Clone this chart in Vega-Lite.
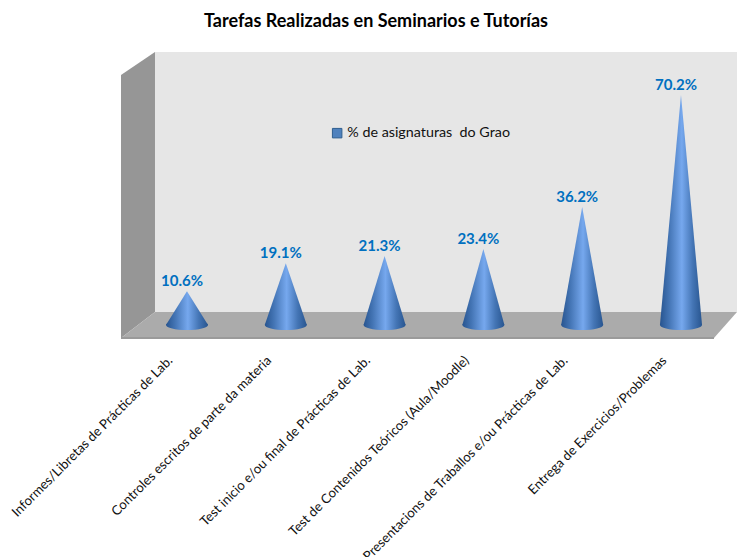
{
"$schema":"https://vega.github.io/schema/vega-lite/v6.json",
"width":616,"height":286,
"autosize":{"type":"none"},
"padding":{"left":121,"top":52,"right":0,"bottom":219},
"background":"white",
"config":{"view":{"stroke":null}},
"title":{"text":"Tarefas Realizadas en Seminarios e Tutorías","font":"Lato","fontSize":18,"fontWeight":"bold","color":"#000000","anchor":"middle","dx":-53,"offset":21},
"datasets":{
"cones":[
{"idx":0,"cat":"Informes/Libretas de Prácticas de Lab.","pct":10.6},
{"idx":1,"cat":"Controles escritos de parte da materia","pct":19.1},
{"idx":2,"cat":"Test inicio e/ou final de Prácticas de Lab.","pct":21.3},
{"idx":3,"cat":"Test de Contenidos Teóricos (Aula/Moodle)","pct":23.4},
{"idx":4,"cat":"Presentacions de Traballos e/ou Prácticas de Lab.","pct":36.2},
{"idx":5,"cat":"Entrega de Exercicios/Problemas","pct":70.2}],
"wall":[{"a":-0.324,"b":83.31,"c":4.26},{"a":5.567,"b":83.31,"c":4.26}],
"side":[{"a":-0.668,"b":76.3,"c":-3.65},{"a":-0.324,"b":83.31,"c":4.26}],
"floor":[{"a":-0.668,"b":-3.65,"c":-3.65},{"a":-0.324,"b":4.26,"c":-3.65},{"a":5.334,"b":4.26,"c":-3.65},{"a":5.567,"b":4.26,"c":4.26}],
"edge":[{"a":-0.668,"b":-3.65},{"a":5.334,"b":-3.65}]
},
"layer":[
{"data":{"name":"wall"},"mark":{"type":"area","fill":"#e6e6e6","clip":false},
 "encoding":{"x":{"field":"a","type":"quantitative","scale":{"domain":[-0.668,5.567],"nice":false,"zero":false},
   "axis":{"values":[0,1,2,3,4,5],"title":null,"grid":false,"domain":false,"ticks":false,"labelAngle":-45,"labelAlign":"right","labelBaseline":"middle","labelPadding":20,"labelOffset":-17,"labelFont":"Lato","labelFontSize":13.2,"labelColor":"#111111","labelOverlap":false,"labelBound":false,"labelFlush":false,"labelLimit":400,
   "labelExpr":"['Informes/Libretas de Prácticas de Lab.','Controles escritos de parte da materia','Test inicio e/ou final de Prácticas de Lab.','Test de Contenidos Teóricos (Aula/Moodle)','Presentacions de Traballos e/ou Prácticas de Lab.','Entrega de Exercicios/Problemas'][datum.value]"}},
  "y":{"field":"b","type":"quantitative","stack":null,"scale":{"domain":[-3.65,83.31],"nice":false,"zero":false},"axis":null},
  "y2":{"field":"c"}}},
{"data":{"name":"side"},"mark":{"type":"area","fill":"#969696"},
 "encoding":{"x":{"field":"a","type":"quantitative"},"y":{"field":"b","type":"quantitative","stack":null},"y2":{"field":"c"}}},
{"data":{"name":"floor"},"mark":{"type":"area","fill":"#ababab"},
 "encoding":{"x":{"field":"a","type":"quantitative"},"y":{"field":"b","type":"quantitative","stack":null},"y2":{"field":"c"}}},
{"data":{"name":"edge"},"mark":{"type":"line","stroke":"#9a9a9a","strokeWidth":2},
 "encoding":{"x":{"field":"a","type":"quantitative"},"y":{"field":"b","type":"quantitative"}}},
{"data":{"name":"cones"},
 "transform":[{"calculate":"[-0.213,0,0.213]","as":"o"},{"flatten":["o"]},{"calculate":"datum.idx+datum.o","as":"px"},{"calculate":"datum.o==0?datum.pct:0.3","as":"h"}],
 "mark":{"type":"area","interpolate":"linear","fill":{"x1":0,"y1":0,"x2":1,"y2":0,"gradient":"linear","stops":[{"offset":0,"color":"#27548f"},{"offset":0.22,"color":"#4475b5"},{"offset":0.52,"color":"#76a8ee"},{"offset":0.78,"color":"#4475b5"},{"offset":1,"color":"#28558f"}]}},
 "encoding":{"x":{"field":"px","type":"quantitative"},"y":{"field":"h","type":"quantitative","stack":null},"y2":{"datum":0.3},"detail":{"field":"idx"}}},
{"data":{"name":"cones"},
 "mark":{"type":"point","shape":"M-1,0A1,0.24,0,0,0,1,0A1,0.24,0,0,0,-1,0Z","size":1764,"filled":true,"opacity":1,"fill":{"x1":0,"y1":0,"x2":1,"y2":0,"gradient":"linear","stops":[{"offset":0,"color":"#27548f"},{"offset":0.22,"color":"#4475b5"},{"offset":0.52,"color":"#76a8ee"},{"offset":0.78,"color":"#4475b5"},{"offset":1,"color":"#28558f"}]}},
 "encoding":{"x":{"field":"idx","type":"quantitative"},"y":{"datum":0.3,"type":"quantitative"}}},
{"data":{"name":"cones"},
 "transform":[{"calculate":"format(datum.pct,'.1f')+'%'","as":"label"}],
 "mark":{"type":"text","font":"Lato","fontSize":15,"fontWeight":"bold","dy":-10,"dx":-5,"color":"#0070c0"},
 "encoding":{"x":{"field":"idx","type":"quantitative"},"y":{"field":"pct","type":"quantitative"},"text":{"field":"label"}}},
{"data":{"name":"cones"},
 "transform":[{"filter":"false"}],
 "mark":{"type":"point","shape":"square","filled":true,"opacity":1},
 "encoding":{"x":{"field":"idx","type":"quantitative"},"y":{"field":"pct","type":"quantitative"},
  "color":{"datum":"% de asignaturas \u00a0do Grao","scale":{"range":["#4f81bd"]},
   "legend":{"title":null,"orient":"none","legendX":209,"legendY":74,"symbolType":"square","symbolSize":90,"symbolStrokeColor":"#2f5f8f","symbolStrokeWidth":1,"labelFont":"Lato","labelFontSize":14.3,"labelColor":"#111111","labelLimit":300,"labelOffset":3}}}}
]
}
